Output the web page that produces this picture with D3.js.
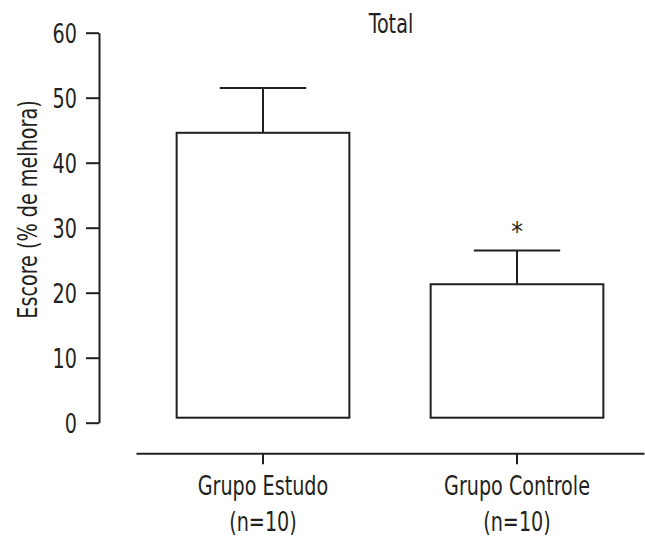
<!DOCTYPE html>
<meta charset="utf-8">
<style>
body { margin: 0; background: #fff; }
text { font-family: "DejaVu Sans", sans-serif; font-stretch: condensed; fill: #231f20; font-size: 26px; }
.axis path, .axis line { stroke: #231f20; stroke-width: 2px; }
.bar { fill: #fff; stroke: #231f20; stroke-width: 2px; }
.err { stroke: #231f20; stroke-width: 2px; fill: none; }
</style>
<body>
<script src="https://d3js.org/d3.v7.min.js"></script>
<script>

// data
var groups = ["Grupo Estudo", "Grupo Controle"];
var groupN = ["(n=10)", "(n=10)"];
var means = [44.6, 21.3];
var errors = [6.9, 5.2];
var marks = ["", "*"];
var yTicks = [0, 10, 20, 30, 40, 50, 60];

var width = 645, height = 536;
var squeeze = 0.82; // narrow the text like a condensed face

var svg = d3.select("body").append("svg")
    .attr("width", width)
    .attr("height", height);

// scales
var x = d3.scaleBand()
    .domain(groups)
    .range([136, 644])
    .paddingInner(0.32)
    .paddingOuter(0.16);

var y = d3.scaleLinear()
    .domain([0, 60])
    .range([422.7, 32.7]);

var baseLift = 5; // bars sit a little above the zero line

// y axis
svg.append("g")
    .attr("class", "axis")
    .attr("transform", "translate(99,0)")
    .call(d3.axisLeft(y).tickValues(yTicks).tickSizeInner(13).tickSizeOuter(0).tickPadding(10))
    .call(function(g) {
      g.selectAll(".tick text")
          .attr("x", 0)
          .attr("dy", "0.36em")
          .attr("transform", "translate(-22,0) scale(" + squeeze + ",1)");
    });

// x axis
var xAxis = svg.append("g")
    .attr("class", "axis")
    .attr("transform", "translate(0,453.3)")
    .call(d3.axisBottom(x).tickSizeInner(11).tickSizeOuter(0).tickFormat(""));

xAxis.selectAll(".tick").each(function(d, i) {
  var tick = d3.select(this);
  tick.append("text")
      .attr("text-anchor", "middle")
      .attr("transform", "translate(0,42) scale(" + squeeze + ",1)")
      .text(groups[i]);
  tick.append("text")
      .attr("text-anchor", "middle")
      .attr("transform", "translate(0,77.5) scale(" + squeeze + ",1)")
      .text(groupN[i]);
});

// bars
svg.selectAll(".bar")
    .data(means)
  .enter().append("rect")
    .attr("class", "bar")
    .attr("x", function(d, i) { return x(groups[i]); })
    .attr("width", x.bandwidth())
    .attr("y", function(d) { return y(d); })
    .attr("height", function(d) { return y(0) - baseLift - y(d); });

// error bars (upper only)
var capHalf = x.bandwidth() / 4;
means.forEach(function(m, i) {
  var cx = x(groups[i]) + x.bandwidth() / 2;
  svg.append("line").attr("class", "err")
      .attr("x1", cx).attr("x2", cx)
      .attr("y1", y(m)).attr("y2", y(m + errors[i]));
  svg.append("line").attr("class", "err")
      .attr("x1", cx - capHalf).attr("x2", cx + capHalf)
      .attr("y1", y(m + errors[i])).attr("y2", y(m + errors[i]));
  if (marks[i]) {
    svg.append("text")
        .attr("text-anchor", "middle")
        .attr("transform", "translate(" + cx + "," + (y(m + errors[i]) - 9) + ")")
        .text(marks[i]);
  }
});

// title
svg.append("text")
    .attr("text-anchor", "middle")
    .attr("transform", "translate(391,33) scale(" + squeeze + ",1)")
    .text("Total");

// y label
svg.append("text")
    .attr("text-anchor", "middle")
    .attr("transform", "translate(37,209.5) rotate(-90) scale(" + squeeze + ",1)")
    .text("Escore (% de melhora)");

</script>
</body>
